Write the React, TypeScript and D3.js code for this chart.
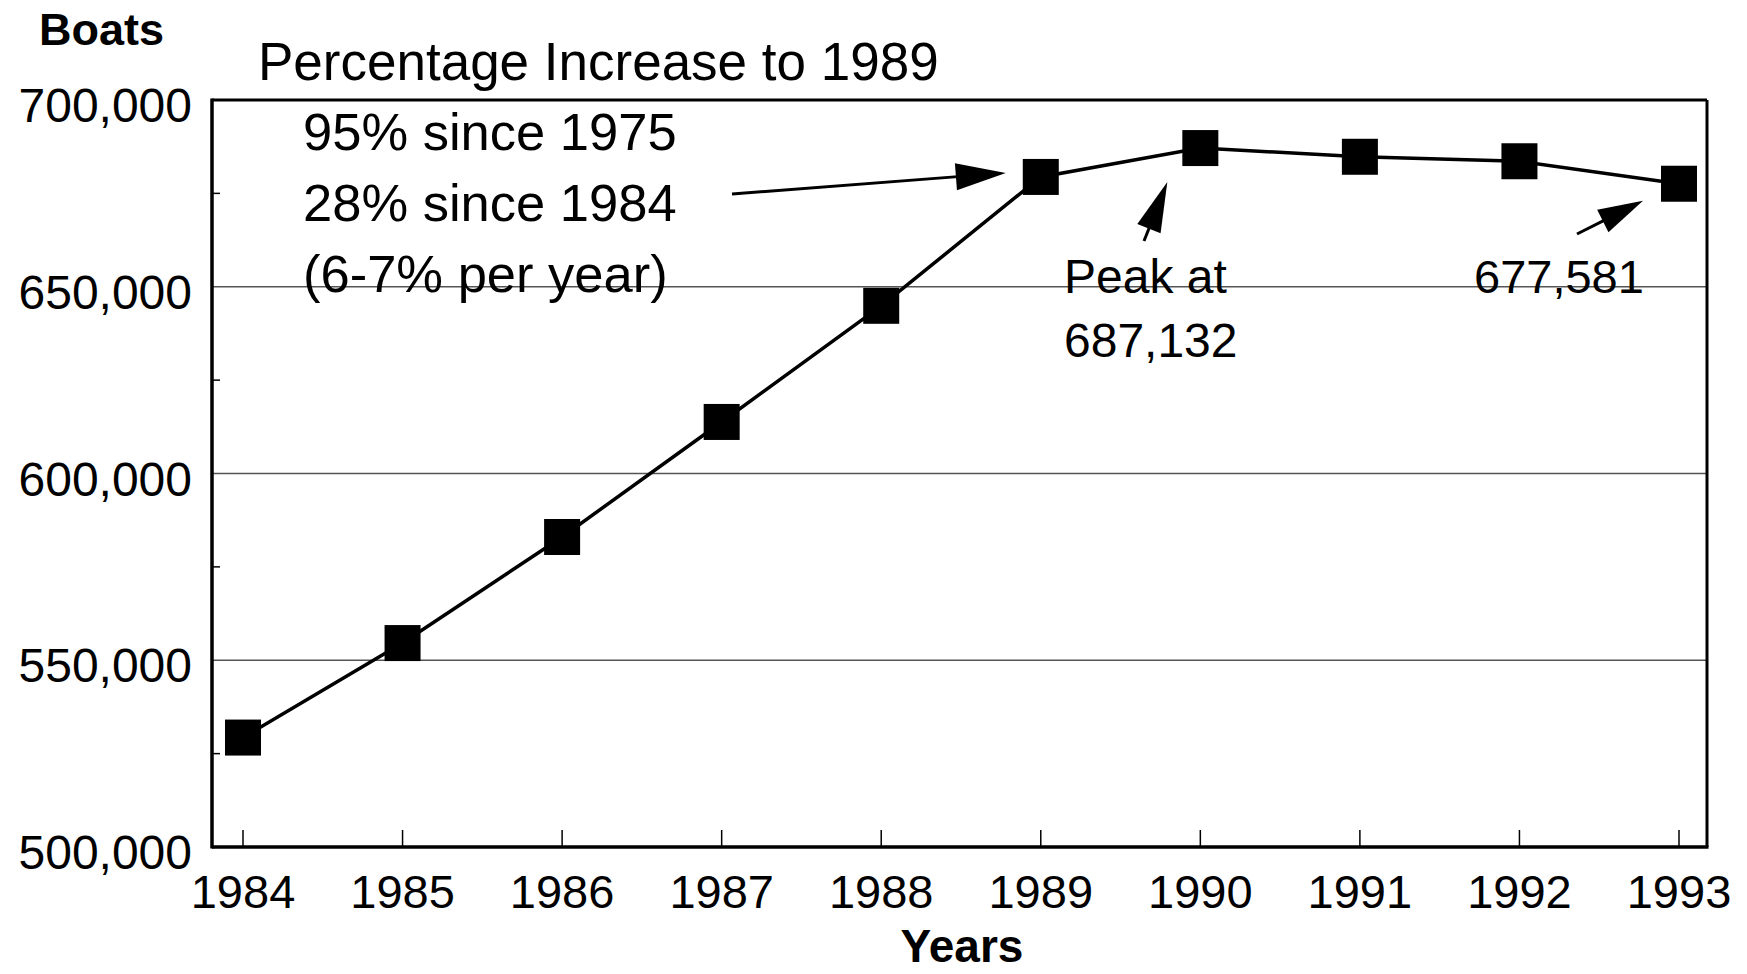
import React from "react";
import * as d3 from "d3";

const years = [1984, 1985, 1986, 1987, 1988, 1989, 1990, 1991, 1992, 1993];
const boats = [529300, 554600, 583000, 613800, 644900, 679400, 687132, 684800, 683600, 677581];
const yTicks = [500000, 550000, 600000, 650000, 700000];
const yMinorTicks = [525000, 575000, 625000, 675000];
const headerLines = ["Percentage Increase to 1989"];
const noteLines = ["95% since 1975", "28% since 1984", "(6-7% per year)"];
const peakLines = ["Peak at", "687,132"];
const lastLabel = "677,581";

const W = 1747;
const H = 974;
const FONT = "'Liberation Sans', Arial, Helvetica, sans-serif";

function Arrow({ x1, y1, x2, y2, headLen = 50, headW = 26 }: any) {
  const dx = x2 - x1;
  const dy = y2 - y1;
  const len = Math.sqrt(dx * dx + dy * dy);
  const ux = dx / len;
  const uy = dy / len;
  const bx = x2 - ux * headLen;
  const by = y2 - uy * headLen;
  const px = -uy * (headW / 2);
  const py = ux * (headW / 2);
  return (
    <g>
      <line x1={x1} y1={y1} x2={bx + ux * 2} y2={by + uy * 2} stroke="#000" strokeWidth={3} />
      <polygon points={`${x2},${y2} ${bx + px},${by + py} ${bx - px},${by - py}`} fill="#000" />
    </g>
  );
}

export default function App() {
  const left = 212;
  const right = 1707;
  const top = 100;
  const bottom = 847;
  const x = d3.scaleLinear().domain([1984, 1993]).range([243, 1679]);
  const y = d3.scaleLinear().domain([500000, 700000]).range([bottom, top]);
  const line = d3
    .line<number>()
    .x((_, i) => x(years[i]))
    .y((d) => y(d));
  const ms = 36;

  const i89 = years.indexOf(1989);
  const i90 = years.indexOf(1990);
  const i93 = years.indexOf(1993);

  return (
    <svg
      width={W}
      height={H}
      style={{ position: "absolute", left: 0, top: 0, background: "#fff" }}
      fontFamily={FONT}
    >
      <rect x={0} y={0} width={W} height={H} fill="#fff" />
      {/* gridlines */}
      {yTicks
        .filter((t) => t !== 500000 && t !== 700000)
        .map((t) => (
          <line key={t} x1={left} x2={right} y1={y(t)} y2={y(t)} stroke="#555" strokeWidth={1.6} />
        ))}
      {/* frame */}
      <line x1={left} x2={right} y1={top} y2={top} stroke="#000" strokeWidth={3} />
      <line x1={right} x2={right} y1={top} y2={bottom} stroke="#000" strokeWidth={3} />
      <line x1={left} x2={left} y1={top - 1.5} y2={bottom + 1.5} stroke="#000" strokeWidth={3.5} />
      <line x1={left} x2={right + 1.5} y1={bottom} y2={bottom} stroke="#000" strokeWidth={3.5} />
      {/* y ticks */}
      {yMinorTicks.map((t) => (
        <line key={t} x1={left} x2={left + 8} y1={y(t)} y2={y(t)} stroke="#000" strokeWidth={1.5} />
      ))}
      {yTicks.map((t) => (
        <text key={t} x={192} y={y(t) + 22} fontSize={48} textAnchor="end" fill="#000">
          {d3.format(",")(t)}
        </text>
      ))}
      {/* x ticks */}
      {years.map((yr) => (
        <g key={yr}>
          <line x1={x(yr)} x2={x(yr)} y1={bottom} y2={bottom - 17} stroke="#000" strokeWidth={1.5} />
          <text x={x(yr)} y={908} fontSize={47} textAnchor="middle" fill="#000">
            {yr}
          </text>
        </g>
      ))}
      {/* axis titles */}
      <text x={39} y={45} fontSize={45} fontWeight="bold" fill="#000">
        Boats
      </text>
      <text x={962} y={962} fontSize={46} fontWeight="bold" textAnchor="middle" fill="#000">
        Years
      </text>
      {/* series */}
      <path d={line(boats) || ""} fill="none" stroke="#000" strokeWidth={3.5} />
      {boats.map((v, i) => (
        <rect key={i} x={x(years[i]) - ms / 2} y={y(v) - ms / 2} width={ms} height={ms} fill="#000" />
      ))}
      {/* annotations */}
      {headerLines.map((s) => (
        <text key={s} x={258} y={80} fontSize={53} fill="#000">
          {s}
        </text>
      ))}
      {noteLines.map((s, i) => (
        <text key={s} x={303} y={150 + i * 71} fontSize={52.5} fill="#000">
          {s}
        </text>
      ))}
      <Arrow x1={732} y1={194} x2={x(years[i89]) - ms / 2 - 17} y2={y(boats[i89]) - 4} headLen={50} headW={27} />
      {peakLines.map((s, i) => (
        <text key={s} x={1064} y={293 + i * 64} fontSize={48} fill="#000">
          {s}
        </text>
      ))}
      <Arrow x1={1144} y1={241} x2={x(years[i90]) - 33} y2={y(boats[i90]) + 34} headLen={50} headW={25} />
      <text x={1474} y={293} fontSize={47} fill="#000">
        {lastLabel}
      </text>
      <Arrow x1={1577} y1={234} x2={x(years[i93]) - 36} y2={y(boats[i93]) + 17} headLen={45} headW={25} />
    </svg>
  );
}
